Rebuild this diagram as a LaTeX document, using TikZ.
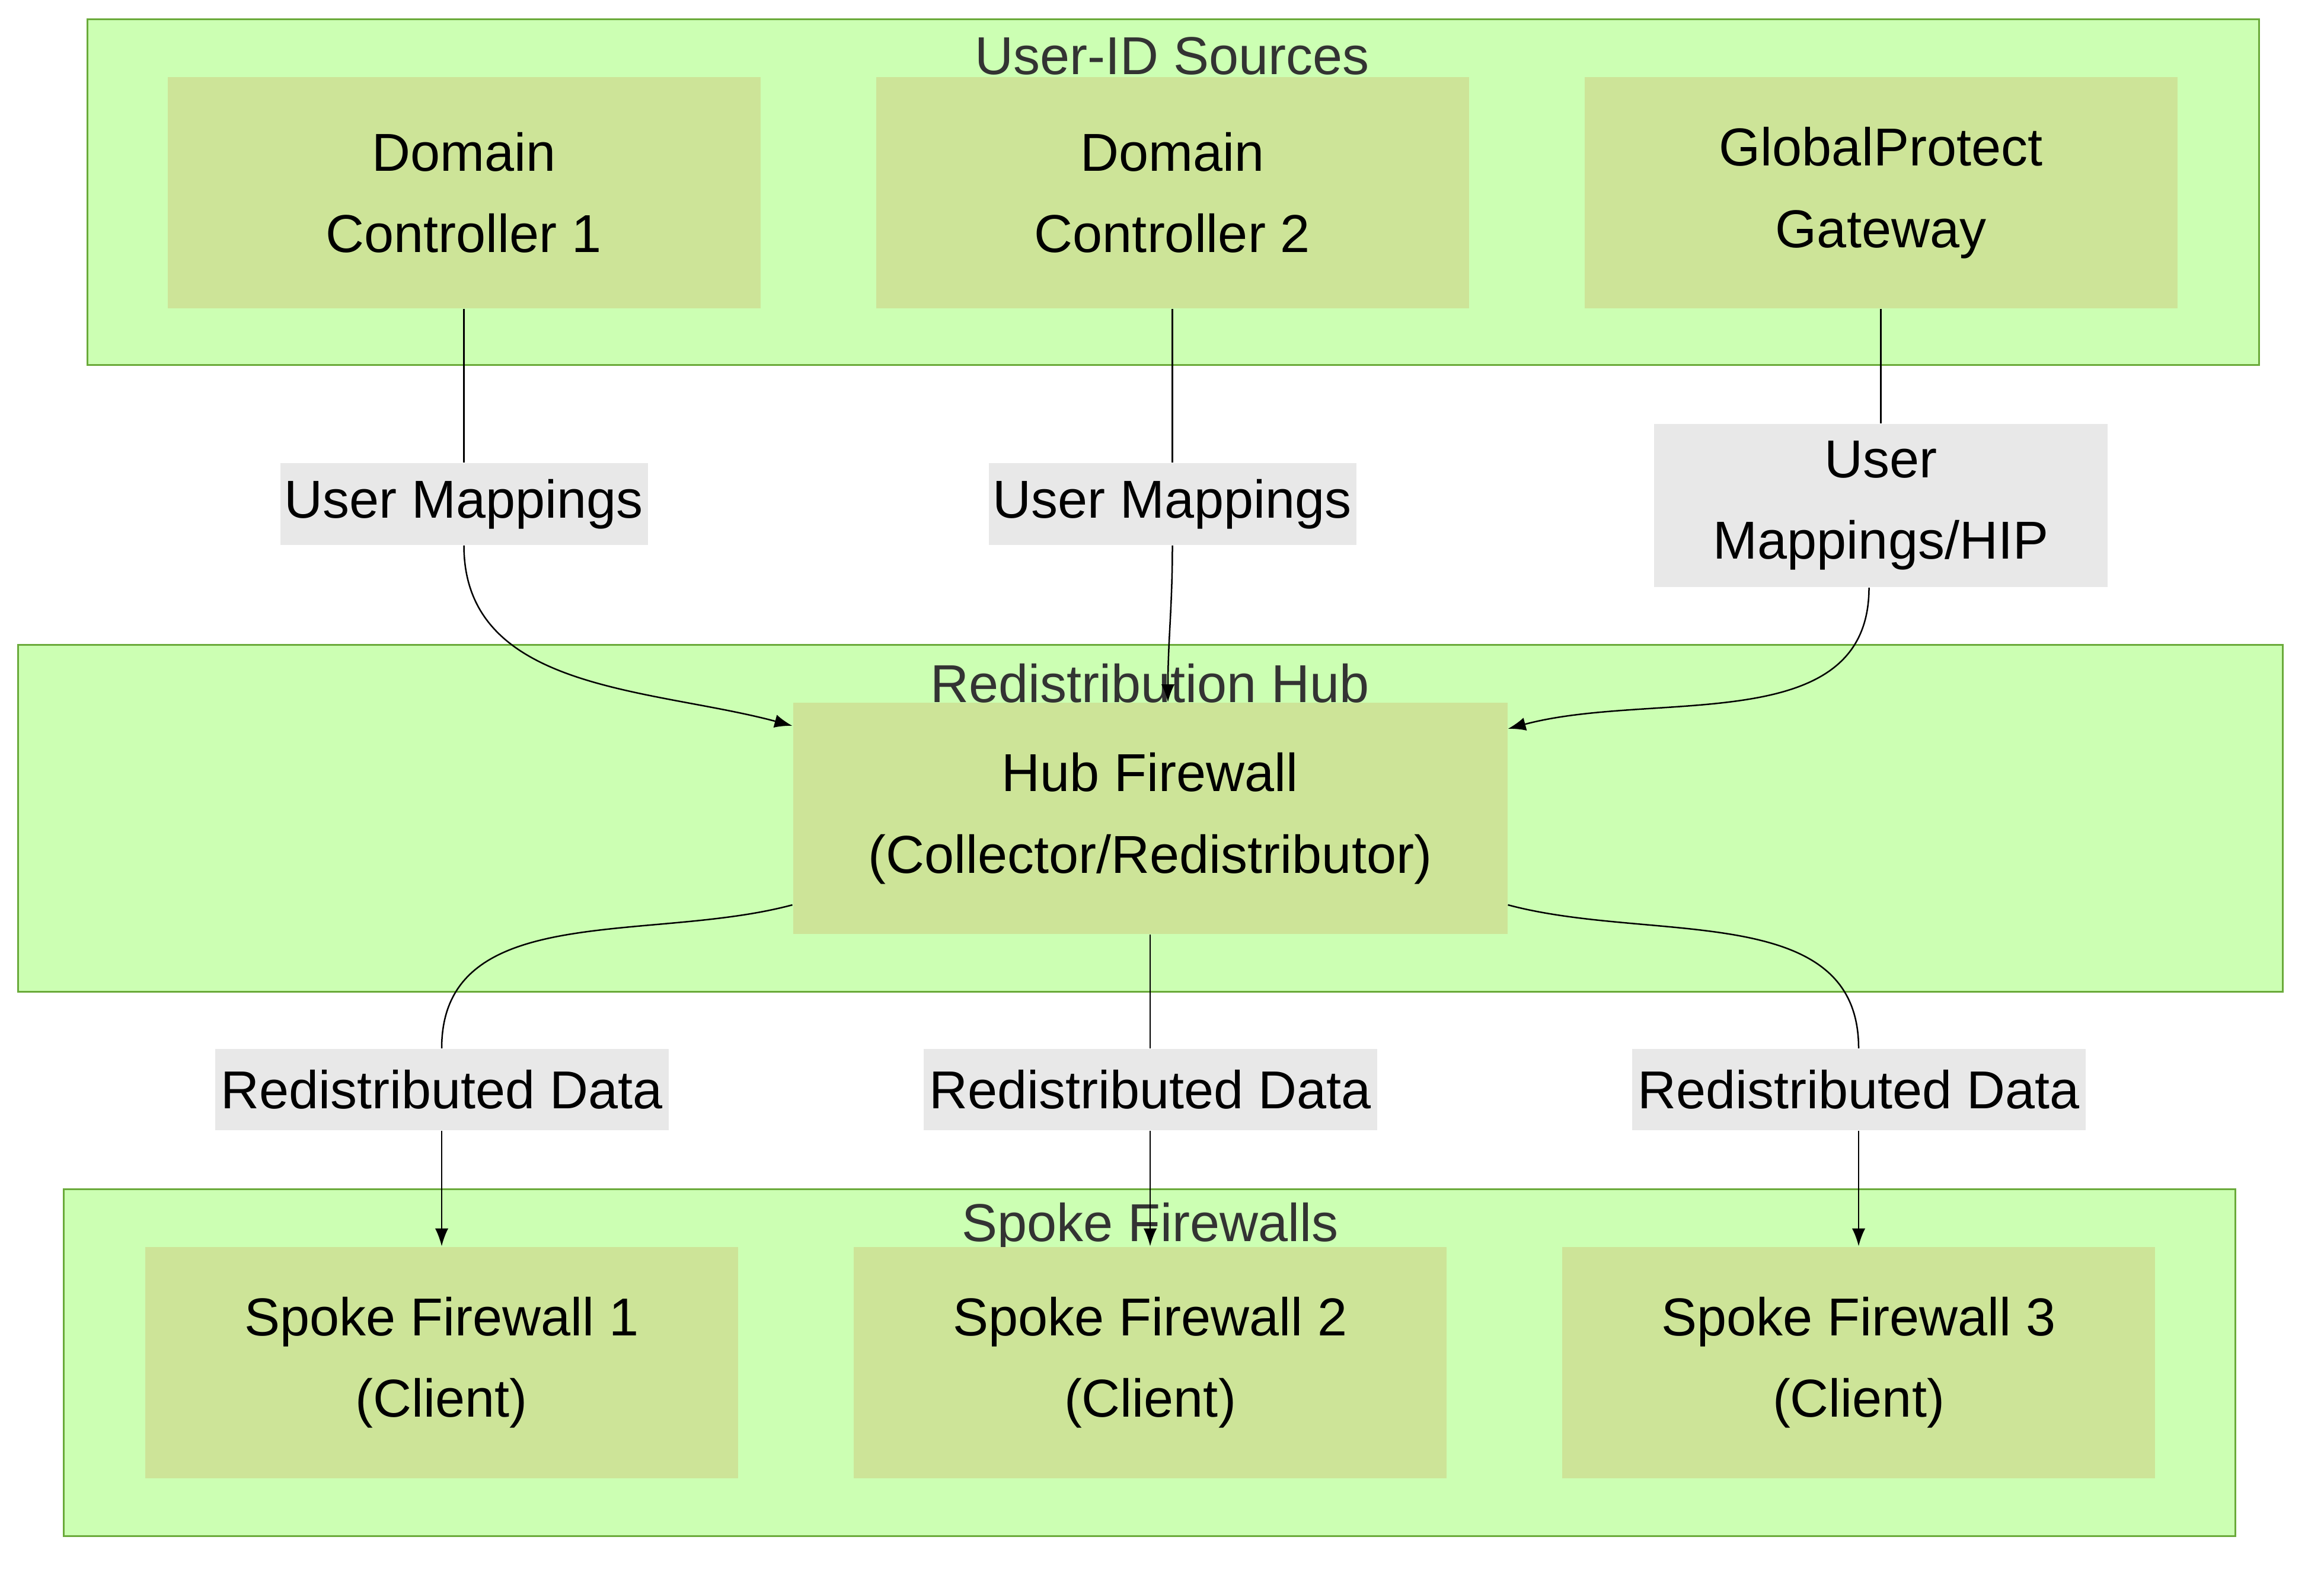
\documentclass[tikz,border=0pt]{standalone}
\usepackage{fontspec}
\setmainfont{Liberation Sans}
\usetikzlibrary{arrows.meta}
\definecolor{clusterfill}{HTML}{CCFFB3}
\definecolor{clusterline}{HTML}{6AAA3A}
\definecolor{boxfill}{HTML}{CDE498}
\definecolor{labelfill}{HTML}{E8E8E8}
\definecolor{titletext}{HTML}{333333}
\begin{document}
\begin{tikzpicture}[x=0.5pt,y=-0.5pt,
  font=\fontsize{18}{27.5}\selectfont,
  cluster/.style={draw=clusterline,fill=clusterfill,line width=0.6pt},
  ctitle/.style={text=titletext,inner sep=0pt},
  box/.style={fill=boxfill,minimum width=200pt,minimum height=78pt,align=center,inner sep=0pt},
  lbl/.style={fill=labelfill,align=center,inner sep=1pt},
  link/.style={line width=0.5pt},
  arr/.style={link,-{Latex[length=6pt,width=4.5pt]}}]
\useasboundingbox (0,0) rectangle (1568,1060);
% clusters
\draw[cluster] (59,13) rectangle (1524,246);
\node[ctitle] (srctitle) at (791,38) {User-ID Sources};
\draw[cluster] (12,435) rectangle (1540,669);
\node[ctitle] (hubtitle) at (776,461) {Redistribution Hub};
\draw[cluster] (43,802) rectangle (1508,1036);
\node[ctitle] (spoketitle) at (776,828) {Spoke Firewalls};
% sources
\node[box] (dc1) at (313,130) {Domain\\Controller 1};
\node[box] (dc2) at (791,130) {Domain\\Controller 2};
\node[box] (gp) at (1269,130) {GlobalProtect\\Gateway};
% hub
\node[box,minimum width=241pt] (hub) at (776,552) {Hub Firewall\\(Collector/Redistributor)};
% spokes
\foreach \n/\x in {1/298,2/776,3/1254}
  \node[box] (spoke\n) at (\x,919) {Spoke Firewall \n\\(Client)};
% edge labels
\node[lbl,minimum width=124pt,minimum height=27.5pt] (m1) at (313,340) {User Mappings};
\node[lbl,minimum width=124pt,minimum height=27.5pt] (m2) at (791,340) {User Mappings};
\node[lbl,minimum width=153pt,minimum height=55pt] (m3) at (1269,341) {User\\Mappings/HIP};
\foreach \n/\x in {1/298,2/776,3/1254}
  \node[lbl,minimum width=153pt,minimum height=27.5pt] (r\n) at (\x,735) {Redistributed Data};
% connectors
\draw[link] (dc1) -- (m1);
\draw[arr] (m1.south) to[out=-90,in=165] ([yshift=-8pt]hub.north west);
\draw[link] (dc2) -- (m2);
\draw[arr] (m2.south) to[out=-90,in=90] ([xshift=6pt]hub.north);
\draw[link] (gp) -- (m3);
\draw[arr] ([xshift=-4pt]m3.south) to[out=-90,in=15] ([yshift=-9pt]hub.north east);
\draw[link] ([yshift=10pt]hub.south west) to[out=195,in=90] (r1.north);
\draw[link] (hub.south) -- (r2.north);
\draw[link] ([yshift=10pt]hub.south east) to[out=-15,in=90] (r3.north);
\foreach \n in {1,2,3}
  \draw[arr] (r\n.south) -- (spoke\n.north);
\end{tikzpicture}
\end{document}
